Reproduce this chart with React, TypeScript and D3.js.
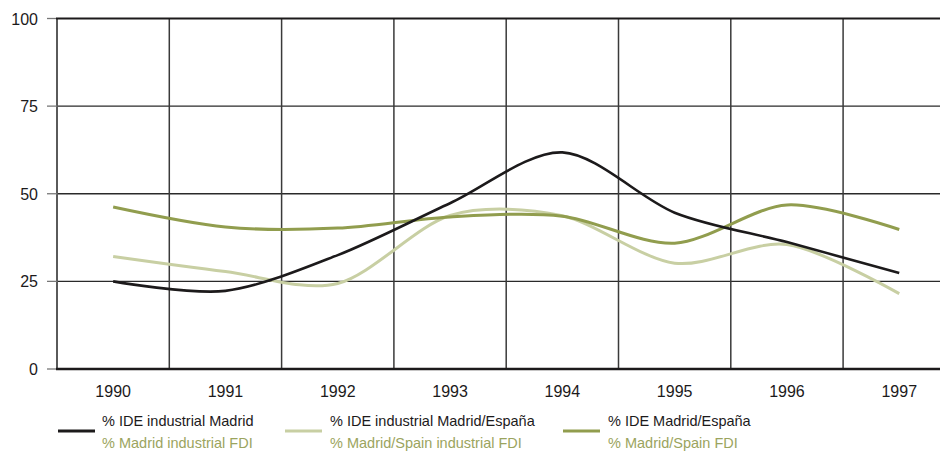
import React from "react";
import * as d3 from "d3";

const years = ["1990", "1991", "1992", "1993", "1994", "1995", "1996", "1997"];
const ideIndustrialMadrid = [25, 22.3, 32.5, 47.3, 61.8, 44.6, 36.2, 27.4];
const ideIndustrialMadridEspana = [32.1, 27.8, 24.4, 43.8, 43.7, 30.2, 35.5, 21.5];
const ideMadridEspana = [46.2, 40.5, 40.2, 43.4, 43.6, 35.9, 46.8, 39.8];
const yTicks = [0, 25, 50, 75, 100];

const legendTop = ["% IDE industrial Madrid", "% IDE industrial Madrid/España", "% IDE Madrid/España"];
const legendBottom = ["% Madrid industrial FDI", "% Madrid/Spain industrial FDI", "% Madrid/Spain FDI"];

const W = 940;
const H = 454;
const FONT = "'Liberation Sans', Arial, sans-serif";

export default function App() {
  const x = d3.scaleBand<string>().domain(years).range([57, 955.4]);
  const y = d3.scaleLinear().domain([0, 100]).range([369, 18.5]);
  const cx = (d: string) => (x(d) as number) + x.bandwidth() / 2;

  const line = d3
    .line<number>()
    .x((_, i) => cx(years[i]))
    .y((v) => y(v))
    .curve(d3.curveCardinal.tension(0.1));

  const series = [
    { values: ideIndustrialMadridEspana, color: "#c8cfa3", width: 3 },
    { values: ideMadridEspana, color: "#919d4e", width: 3 },
    { values: ideIndustrialMadrid, color: "#1c1a1b", width: 2.6 },
  ];

  const legendItems = [
    { color: "#1c1a1b", lx: 58, tx: 102 },
    { color: "#c8cfa3", lx: 285, tx: 330 },
    { color: "#919d4e", lx: 563, tx: 608 },
  ];

  const gridXs = years.map((d) => x(d) as number);

  return (
    <svg width={W} height={H} style={{ position: "absolute", left: 0, top: 0, display: "block" }}>
      <rect width={W} height={H} fill="#ffffff" />
      {yTicks.filter((t) => t > 0 && t < 100).map((t) => (
        <line key={t} x1={57} x2={W} y1={y(t)} y2={y(t)} stroke="#2a2a2a" strokeWidth={1.3} />
      ))}
      {gridXs.slice(1).map((gx, i) => (
        <line key={i} x1={gx} x2={gx} y1={y(100)} y2={y(0)} stroke="#3a3a3a" strokeWidth={1.5} />
      ))}
      <line x1={57} x2={57} y1={y(100)} y2={y(0)} stroke="#5a5a5a" strokeWidth={2} />
      {yTicks.map((t) => (
        <g key={t}>
          <line x1={47} x2={57} y1={y(t)} y2={y(t)} stroke="#777" strokeWidth={1.3} />
          <text x={38} y={y(t) + 6} textAnchor="end" fontFamily={FONT} fontSize={16} fill="#1c1a1b">
            {t}
          </text>
        </g>
      ))}
      <line x1={56} x2={W} y1={y(100)} y2={y(100)} stroke="#1c1a1b" strokeWidth={2} />
      {series.map((s, i) => (
        <path key={i} d={line(s.values) || ""} fill="none" stroke={s.color} strokeWidth={s.width} strokeLinejoin="round" />
      ))}
      <line x1={56} x2={W} y1={y(0)} y2={y(0)} stroke="#1c1a1b" strokeWidth={2.6} />
      {years.map((d) => (
        <text key={d} x={cx(d)} y={397} textAnchor="middle" fontFamily={FONT} fontSize={16} fill="#1c1a1b">
          {d}
        </text>
      ))}
      {legendItems.map((it, i) => (
        <g key={i}>
          <line x1={it.lx} x2={it.lx + 37} y1={431} y2={431} stroke={it.color} strokeWidth={3} />
          <text x={it.tx} y={426} fontFamily={FONT} fontSize={14.5} fill="#1c1a1b">
            {legendTop[i]}
          </text>
          <text x={it.tx} y={448} fontFamily={FONT} fontSize={14.5} fill="#9ba45e">
            {legendBottom[i]}
          </text>
        </g>
      ))}
    </svg>
  );
}
